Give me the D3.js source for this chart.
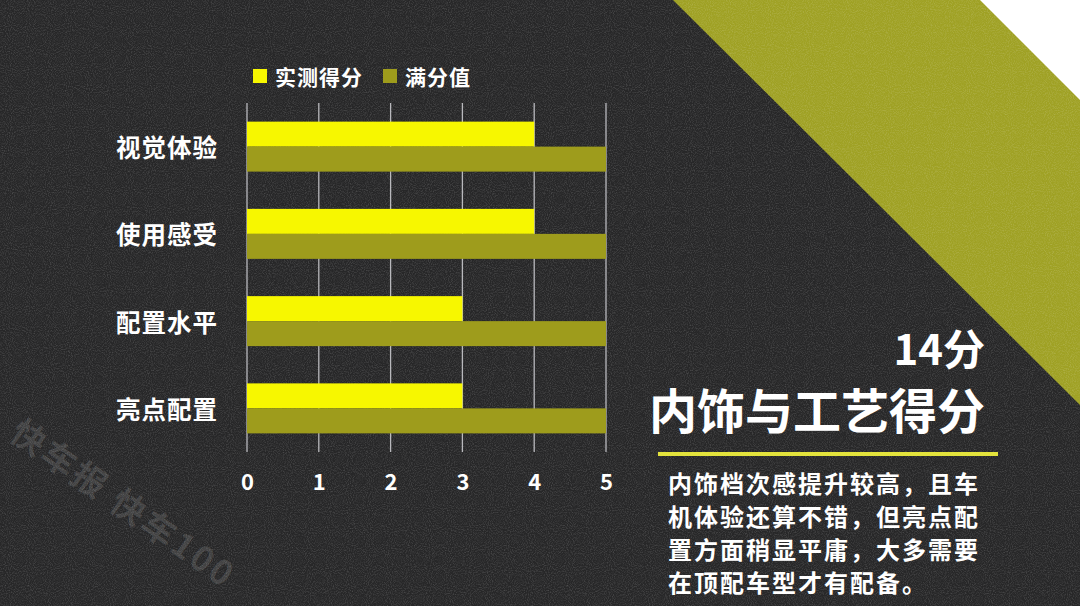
<!DOCTYPE html>
<html><head><meta charset="utf-8">
<script src="https://cdn.jsdelivr.net/npm/d3@7"></script>
<style>html,body{margin:0;padding:0;background:#2a2a2b;overflow:hidden}svg{display:block}text{font-family:"Noto Sans CJK SC","Noto Sans",sans-serif;font-weight:700}</style>
</head><body>
<svg id="c" width="1080" height="606"></svg>
<script>
const categories = ["视觉体验","使用感受","配置水平","亮点配置"];
const measured = [4,4,3,3];
const fullScore = [5,5,5,5];
const seriesNames = ["实测得分","满分值"];
const xTicks = [0,1,2,3,4,5];
const titleScore = "14分";
const titleText = "内饰与工艺得分";
const paragraph = ["内饰档次感提升较高，且车","机体验还算不错，但亮点配","置方面稍显平庸，大多需要","在顶配车型才有配备。"];
const watermark = "快车报 快车100";

const W=1080,H=606;
const svg=d3.select("#c");
const defs=svg.append("defs");
const f=defs.append("filter").attr("id","grain").attr("x",0).attr("y",0).attr("width","100%").attr("height","100%");
f.append("feTurbulence").attr("type","fractalNoise").attr("baseFrequency",0.95).attr("numOctaves",2).attr("seed",3).attr("result","n");
f.append("feColorMatrix").attr("type","matrix").attr("values","0 0 0 0 1  0 0 0 0 1  0 0 0 0 1  0 0 0 1.1 -0.45");

svg.append("rect").attr("width",W).attr("height",H).attr("fill","#272728");
// diagonal stripes
svg.append("polygon").attr("points","673,0 1080,0 1080,405").attr("fill","#9fa124");
svg.append("polygon").attr("points","980,0 1080,0 1080,100").attr("fill","#ffffff");
svg.append("rect").attr("width",W).attr("height",H).attr("filter","url(#grain)").attr("opacity",0.3);

// watermark
svg.append("text").attr("transform","translate(16,426) rotate(35)")
  .attr("font-size",34).attr("letter-spacing",3).attr("fill","#ffffff").attr("fill-opacity",0.13)
  .attr("dominant-baseline","central").text(watermark);

const x=d3.scaleLinear().domain([0,5]).range([247,606]);
const y=d3.scaleBand().domain(categories).range([103,452]).paddingInner(0.427).paddingOuter(0.2135);
const sub=d3.scaleBand().domain(seriesNames).range([0,y.bandwidth()]);
const colors={"实测得分":"#f7f700","满分值":"#9e9c1c"};

// grid
svg.append("g").selectAll("line").data(xTicks).join("line")
  .attr("x1",d=>x(d)).attr("x2",d=>x(d)).attr("y1",103).attr("y2",452)
  .attr("stroke","#b9b9bd").attr("stroke-width",1.3);

const rows=categories.map((c,i)=>({c,vals:[{s:seriesNames[0],v:measured[i]},{s:seriesNames[1],v:fullScore[i]}]}));
const g=svg.append("g").selectAll("g").data(rows).join("g").attr("transform",d=>`translate(0,${y(d.c)})`);
g.selectAll("rect").data(d=>d.vals).join("rect")
  .attr("x",x(0)).attr("y",d=>sub(d.s)).attr("height",sub.bandwidth())
  .attr("width",d=>x(d.v)-x(0)).attr("fill",d=>colors[d.s]);

// category labels
svg.append("g").selectAll("text").data(categories).join("text")
  .attr("x",218).attr("y",d=>y(d)+y.bandwidth()/2).attr("text-anchor","end")
  .attr("dominant-baseline","central").attr("font-size",24.5).attr("letter-spacing",1).attr("fill","#fff").text(d=>d);

// x tick labels
const ax=svg.append("g").attr("transform","translate(0,470)").call(d3.axisBottom(x).tickValues(xTicks).tickFormat(d3.format("d")).tickSize(0).tickPadding(0));
ax.select(".domain").remove();
ax.selectAll("text").attr("font-size",22).attr("fill","#fff").attr("font-family","'Open Sans','Noto Sans',sans-serif").attr("font-weight",700).attr("dy","0.9em");

// legend
const lg=svg.append("g");
const lx=[253,383];
seriesNames.forEach((s,i)=>{
  lg.append("rect").attr("x",lx[i]).attr("y",69).attr("width",14).attr("height",14).attr("fill",colors[s]);
  lg.append("text").attr("x",lx[i]+22).attr("y",76).attr("dominant-baseline","central").attr("font-size",21).attr("letter-spacing",1).attr("fill","#fff").text(s);
});

// titles
svg.append("text").attr("x",985).attr("y",346).attr("text-anchor","end").attr("dominant-baseline","central")
  .attr("font-size",42).attr("fill","#fff").text(titleScore);
svg.append("text").attr("x",985).attr("y",408).attr("text-anchor","end").attr("dominant-baseline","central")
  .attr("font-size",48).attr("letter-spacing",0).attr("fill","#fff").text(titleText);
svg.append("rect").attr("x",658).attr("y",452).attr("width",340).attr("height",4).attr("fill","#e3e33c");
svg.append("g").selectAll("text").data(paragraph).join("text")
  .attr("x",668).attr("y",(d,i)=>482+i*33).attr("dominant-baseline","central")
  .attr("font-size",24).attr("letter-spacing",2).attr("fill","#fff").text(d=>d);
</script>
</body></html>
